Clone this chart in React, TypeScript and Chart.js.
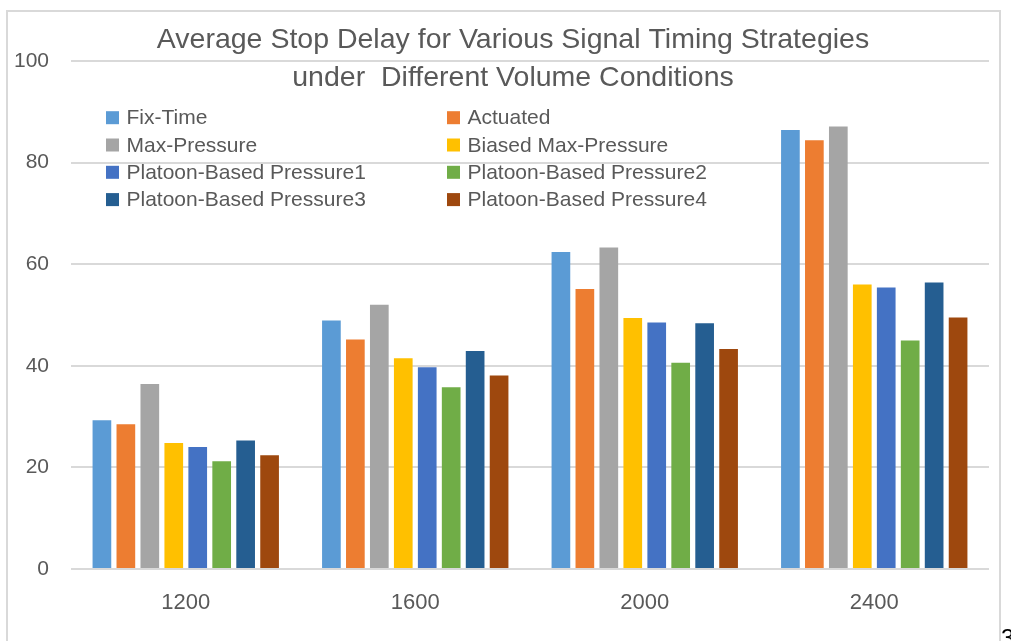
import React, { useEffect, useRef } from "react";
import { Chart, registerables } from "chart.js";

Chart.register(...registerables);

const volumes = ["1200", "1600", "2000", "2400"];

const strategyNames = [
  "Fix-Time",
  "Actuated",
  "Max-Pressure",
  "Biased Max-Pressure",
  "Platoon-Based Pressure1",
  "Platoon-Based Pressure2",
  "Platoon-Based Pressure3",
  "Platoon-Based Pressure4",
];

const fixTime = [29.3, 48.9, 62.4, 86.4];
const actuated = [28.5, 45.2, 55.1, 84.4];
const maxPressure = [36.4, 52.0, 63.3, 87.1];
const biasedMaxPressure = [24.8, 41.5, 49.4, 56.0];
const platoonPressure1 = [24.0, 39.7, 48.5, 55.4];
const platoonPressure2 = [21.2, 35.8, 40.6, 45.0];
const platoonPressure3 = [25.3, 42.9, 48.4, 56.4];
const platoonPressure4 = [22.4, 38.1, 43.3, 49.5];

const seriesValues = [
  fixTime,
  actuated,
  maxPressure,
  biasedMaxPressure,
  platoonPressure1,
  platoonPressure2,
  platoonPressure3,
  platoonPressure4,
];

const seriesColors = [
  "#5B9BD5",
  "#ED7D31",
  "#A5A5A5",
  "#FFC000",
  "#4472C4",
  "#70AD47",
  "#255E91",
  "#9E480E",
];

const titleLines = [
  "Average Stop Delay for Various Signal Timing Strategies",
  "under  Different Volume Conditions",
];

const yTicks = [0, 20, 40, 60, 80, 100];

const FONT = "'Liberation Sans', Arial, sans-serif";
const TEXT_COLOR = "#595959";
const GRID_COLOR = "#d9d9d9";

// Outer frame, two-line title, two-column legend and the stray page number
const decorPlugin = {
  id: "decor",
  beforeDraw(chart: any) {
    const ctx = chart.ctx;
    ctx.save();
    ctx.fillStyle = "#ffffff";
    ctx.fillRect(0, 0, chart.width, chart.height);
    ctx.strokeStyle = GRID_COLOR;
    ctx.lineWidth = 2;
    ctx.strokeRect(7, 11, 993, 660);
    ctx.restore();
  },
  afterDraw(chart: any) {
    const ctx = chart.ctx;
    ctx.save();
    // title
    ctx.fillStyle = TEXT_COLOR;
    ctx.font = `28.5px ${FONT}`;
    ctx.textAlign = "center";
    ctx.textBaseline = "alphabetic";
    ctx.fillText(titleLines[0], 513, 48);
    ctx.fillText(titleLines[1], 513, 86);

    // legend, two columns
    const colX = [106, 447];
    const rowY0 = 117.7;
    const rowStep = 27.3;
    ctx.font = `21px ${FONT}`;
    ctx.textAlign = "left";
    ctx.textBaseline = "middle";
    chart.data.datasets.forEach((ds: any, i: number) => {
      const x = colX[i % 2];
      const y = rowY0 + Math.floor(i / 2) * rowStep;
      ctx.fillStyle = ds.backgroundColor;
      ctx.fillRect(x, y - 6.5, 13, 13);
      ctx.fillStyle = TEXT_COLOR;
      ctx.fillText(ds.label, x + 20.5, y + 1);
    });

    // page number at the lower right edge
    ctx.fillStyle = "#000000";
    ctx.font = `24px ${FONT}`;
    ctx.textAlign = "left";
    ctx.textBaseline = "alphabetic";
    ctx.fillText("3", 1001, 646);
    ctx.restore();
  },
};

export default function App() {
  const canvasRef = useRef<HTMLCanvasElement | null>(null);

  useEffect(() => {
    const canvas = canvasRef.current;
    if (!canvas) return;
    const chart = new Chart(canvas, {
      type: "bar",
      data: {
        labels: volumes,
        datasets: strategyNames.map((name, i) => ({
          label: name,
          data: seriesValues[i],
          backgroundColor: seriesColors[i],
          borderWidth: 0,
          categoryPercentage: 0.835,
          barPercentage: 0.78,
        })),
      },
      options: {
        responsive: false,
        animation: false,
        devicePixelRatio: 1,
        layout: { padding: { left: 0, right: 22, top: 61, bottom: 0 } },
        plugins: {
          legend: { display: false },
          title: { display: false },
          tooltip: { enabled: false },
        },
        scales: {
          x: {
            grid: { display: false, drawTicks: false },
            border: { display: false },
            ticks: {
              color: TEXT_COLOR,
              font: { family: FONT, size: 22 },
              padding: 21,
            },
            afterFit(scale: any) {
              scale.height = 72;
            },
          },
          y: {
            min: 0,
            max: 100,
            afterBuildTicks(scale: any) {
              scale.ticks = yTicks.map((v) => ({ value: v }));
            },
            grid: { color: GRID_COLOR, lineWidth: 2, drawTicks: false },
            border: { display: false },
            ticks: {
              color: TEXT_COLOR,
              font: { family: FONT, size: 21 },
              padding: 22,
            },
            afterFit(scale: any) {
              scale.width = 71;
            },
          },
        },
      },
      plugins: [decorPlugin],
    });
    return () => chart.destroy();
  }, []);

  return (
    <div style={{ position: "fixed", left: 0, top: 0, width: 1011, height: 641, background: "#fff" }}>
      <canvas ref={canvasRef} width={1011} height={641} style={{ display: "block" }} />
    </div>
  );
}
